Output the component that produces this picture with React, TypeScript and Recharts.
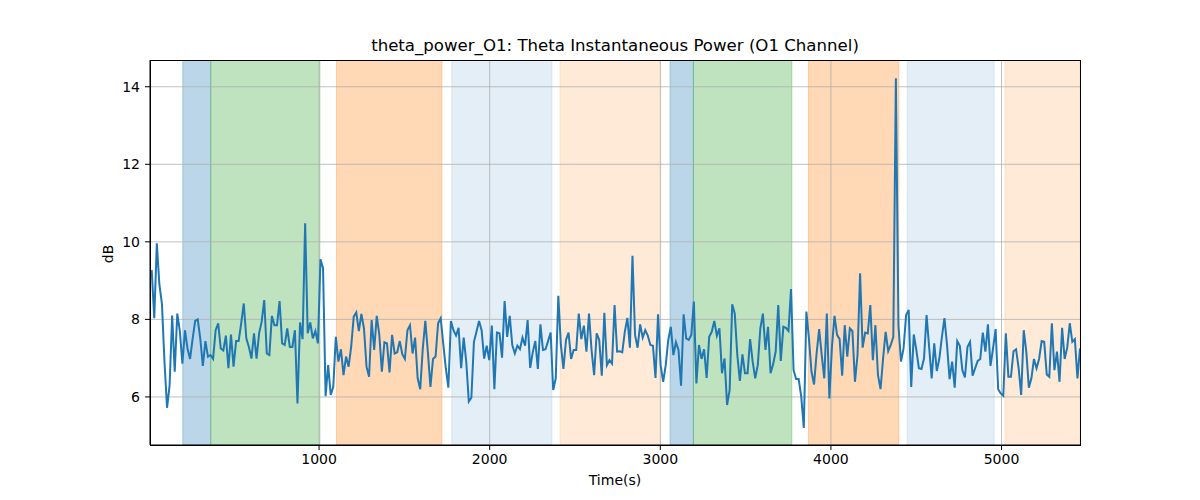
import React from 'react';
import { LineChart, Line, XAxis, YAxis, ReferenceArea, ReferenceLine } from 'recharts';

const TITLE = 'theta_power_O1: Theta Instantaneous Power (O1 Channel)';
const X_LABEL = 'Time(s)';
const Y_LABEL = 'dB';
const X_DOMAIN = [9, 5460];
const Y_DOMAIN = [4.76, 14.69];
const X_TICKS = [1000, 2000, 3000, 4000, 5000];
const Y_TICKS = [6, 8, 10, 12, 14];
const T_START = 19;
const T_END = 5460;

const VALUES = [
  // segment 1
  9.27, 8.03, 9.96, 8.9, 8.4, 6.9, 5.72, 6.3, 8.1, 6.65, 8.15, 7.7, 6.86, 7.72, 7.25, 6.98, 7.5, 7.96, 8.0, 7.5,
  6.8, 7.44, 7.04, 7.08, 6.98, 7.72, 7.9, 7.25, 7.2, 7.58, 6.74, 7.61, 6.78, 7.44, 7.44, 7.9, 8.41, 7.51, 7.29,
  // segment 2
  6.99, 7.64, 6.99, 7.64, 7.94, 8.5, 7.12, 7.08, 8.09, 7.85, 7.85, 8.47, 7.38, 7.34, 7.77, 7.29, 7.29, 7.72, 5.83, 7.92,
  7.49, 10.48, 7.64, 7.92, 7.51, 7.7, 7.38, 9.55, 9.32, 6.02, 6.82, 6.05, 6.26, 7.55, 6.91, 7.23, 6.56, 7.04, 6.78, 7.3,
  // segment 3
  8.07, 8.18, 7.7, 8.14, 7.77, 6.78, 6.52, 7.98, 7.21, 8.09, 7.6, 6.65, 7.41, 7.38, 6.63, 7.6, 7.12, 7.15, 7.44, 7.1,
  6.98, 7.72, 7.85, 7.12, 7.53, 6.48, 6.2, 7.25, 7.96, 7.15, 6.26, 6.98, 7.04, 7.9, 8.03, 7.38, 6.74, 6.24, 7.96,
  // segment 4
  7.72, 7.58, 7.78, 6.74, 7.53, 6.91, 5.88, 5.98, 7.42, 7.68, 7.96, 7.72, 6.99, 7.32, 6.95, 7.84, 6.2, 7.66, 7.64, 7.01,
  8.47, 7.55, 8.09, 7.34, 7.12, 7.32, 7.23, 7.53, 7.32, 7.98, 6.75, 7.15, 7.44, 6.72, 7.87, 7.21, 7.23, 7.44, 7.66, 6.18,
  // segment 5
  6.48, 8.61, 7.34, 6.72, 7.47, 7.66, 6.98, 7.21, 7.21, 8.15, 7.49, 7.84, 7.17, 8.15, 7.21, 6.56, 7.64, 7.47, 6.55, 8.17,
  6.82, 6.95, 6.86, 8.37, 7.17, 7.18, 7.15, 7.68, 8.04, 7.27, 9.64, 7.6, 7.27, 7.87, 7.53, 7.72, 7.58, 7.34, 7.32, 6.49,
  // segment 6
  8.13, 6.82, 6.39, 6.82, 7.47, 7.81, 7.08, 7.41, 7.21, 6.29, 8.13, 7.51, 7.47, 7.6, 8.46, 6.35, 7.34, 6.98, 7.23, 6.49,
  7.55, 7.68, 7.96, 7.58, 7.77, 6.61, 6.99, 5.79, 6.18, 8.39, 8.15, 7.08, 6.41, 7.1, 6.61, 6.61, 7.49, 6.91, 6.48, 6.82,
  // segment 7
  7.77, 8.15, 7.21, 7.81, 6.61, 6.84, 7.17, 8.37, 6.93, 7.81, 7.78, 7.7, 8.78, 6.69, 6.46, 6.46, 6.0, 5.2, 8.2, 7.51,
  6.65, 6.32, 7.12, 7.75, 7.08, 6.48, 8.15, 5.96, 7.29, 8.09, 7.6, 7.49, 6.55, 7.85, 7.04, 7.77, 7.7, 6.39, 7.08,
  // segment 8
  9.19, 7.27, 7.66, 7.64, 8.37, 6.95, 7.85, 6.56, 6.2, 6.99, 7.68, 7.18, 7.34, 7.55, 14.22, 7.85, 6.91, 7.25, 8.11, 8.24,
  6.26, 7.61, 7.21, 6.74, 6.72, 6.99, 8.11, 7.29, 6.48, 7.38, 6.67, 6.99, 7.55, 8.03, 7.34, 6.46, 6.91, 6.24, 7.44, 7.32,
  6.69,
  // segment 9
  6.5, 7.29, 7.42, 6.55, 6.74, 6.93, 6.98, 7.66, 7.17, 7.87, 6.8, 7.25, 7.75, 6.2, 6.09, 6.03, 7.64, 6.52, 6.52, 7.18,
  7.23, 6.74, 6.05, 7.72, 7.17, 6.24, 6.48, 6.98, 6.74, 6.98, 7.44, 7.42, 6.58, 6.52, 7.9, 6.69, 7.17, 6.39, 7.78, 6.98,
  7.27, 7.9, 7.42, 7.49, 6.48, 7.25,
];

const SPAN_STARTS = [201, 365, 1102, 1778, 2412, 3057, 3194, 3868, 4447, 5020];
const SPAN_ENDS = [365, 1005, 1720, 2365, 3003, 3194, 3771, 4398, 4957, 5460];
const SPAN_COLORS = ['#1f77b4', '#2ca02c', '#ff7f0e', '#1f77b4', '#ff7f0e', '#1f77b4', '#2ca02c', '#ff7f0e', '#1f77b4', '#ff7f0e'];
const SPAN_ALPHAS = [0.3, 0.3, 0.3, 0.12, 0.16, 0.3, 0.3, 0.3, 0.12, 0.16];

const STEP = (T_END - T_START) / (VALUES.length - 1);
const data = VALUES.map((v, i) => ({ t: T_START + i * STEP, v }));

const FONT = '"DejaVu Sans", sans-serif';

export default function App() {
  return (
    <div style={{ position: 'absolute', left: 0, top: 0, width: 1200, height: 500, background: '#fff', fontFamily: FONT }}>
      <LineChart width={1200} height={500} data={data} margin={{ top: 60, right: 120, bottom: 25, left: 0 }}>
        <XAxis
          dataKey="t"
          type="number"
          domain={X_DOMAIN}
          ticks={X_TICKS}
          allowDataOverflow
          height={30}
          tickSize={5}
          tickMargin={4}
          stroke="#000"
          tick={{ fill: '#000', fontSize: 14, fontFamily: FONT }}
          axisLine={{ stroke: '#000', strokeWidth: 1 }}
          tickLine={{ stroke: '#000' }}
        />
        <YAxis
          dataKey="v"
          type="number"
          domain={Y_DOMAIN}
          ticks={Y_TICKS}
          allowDataOverflow
          width={150}
          tickSize={5}
          tickMargin={5}
          stroke="#000"
          tick={{ fill: '#000', fontSize: 14, fontFamily: FONT }}
          axisLine={{ stroke: '#000', strokeWidth: 1 }}
          tickLine={{ stroke: '#000' }}
        />
        {SPAN_STARTS.map((s, i) => (
          <ReferenceArea
            key={'span' + i}
            x1={s}
            x2={SPAN_ENDS[i]}
            fill={SPAN_COLORS[i]}
            fillOpacity={SPAN_ALPHAS[i]}
            stroke={SPAN_COLORS[i]}
            strokeOpacity={SPAN_ALPHAS[i]}
            ifOverflow="hidden"
          />
        ))}
        {X_TICKS.map((x) => (
          <ReferenceLine key={'gx' + x} x={x} stroke="#b0b0b0" strokeWidth={0.8} />
        ))}
        {Y_TICKS.map((y) => (
          <ReferenceLine key={'gy' + y} y={y} stroke="#b0b0b0" strokeWidth={0.8} />
        ))}
        <Line
          type="linear"
          dataKey="v"
          stroke="#1f77b4"
          strokeWidth={2}
          dot={false}
          isAnimationActive={false}
        />
      </LineChart>
      <div style={{ position: 'absolute', left: 150, top: 60, width: 929, height: 384, border: '1px solid #000', pointerEvents: 'none' }} />
      <div style={{ position: 'absolute', left: 150, width: 930, top: 36, textAlign: 'center', fontSize: 16.6, color: '#000' }}>{TITLE}</div>
      <div style={{ position: 'absolute', left: 150, width: 930, top: 472, textAlign: 'center', fontSize: 14, color: '#000' }}>{X_LABEL}</div>
      <div style={{ position: 'absolute', left: 95, top: 244, width: 30, height: 20, textAlign: 'center', fontSize: 14, color: '#000', transform: 'rotate(-90deg)' }}>{Y_LABEL}</div>
    </div>
  );
}
